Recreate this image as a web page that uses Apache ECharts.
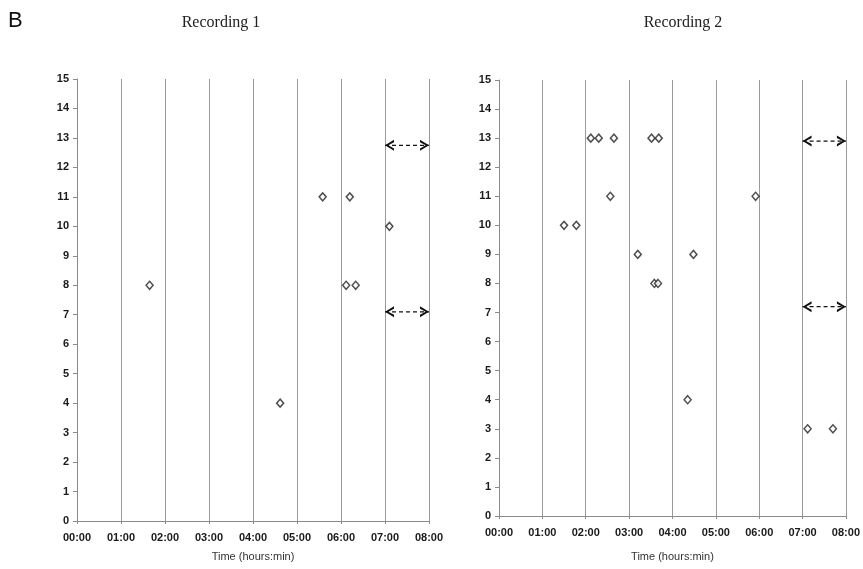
<!DOCTYPE html>
<html>
<head>
<meta charset="utf-8">
<script src="https://cdn.jsdelivr.net/npm/echarts@6/dist/echarts.min.js"></script>
<style>
html,body{margin:0;padding:0;background:#fff;}
#chart{width:863px;height:569px;}
</style>
</head>
<body>
<div id="chart"></div>
<script>
// ---- data ----
const panelTitles = ['Recording 1', 'Recording 2'];
const xTickLabels = ['00:00','01:00','02:00','03:00','04:00','05:00','06:00','07:00','08:00'];
const yTicks = [0,1,2,3,4,5,6,7,8,9,10,11,12,13,14,15];

// Recording 1 events: time (hh:mm) and level
const rec1Times  = ['01:39','04:37','05:35','06:12','06:07','06:20','07:06'];
const rec1Levels = [8, 4, 11, 11, 8, 8, 10];

// Recording 2 events
const rec2Times  = ['02:07','02:18','02:39','03:31','03:41','02:34','05:55','01:30','01:47','03:12','04:29','03:35','03:40','04:21','07:07','07:42'];
const rec2Levels = [13, 13, 13, 13, 13, 11, 11, 10, 10, 9, 9, 8, 8, 4, 3, 3];

// double-headed dashed arrows (07:00 -> 08:00)
const arrowSpan = ['07:00','08:00'];
const rec1ArrowLevels = [12.75, 7.1];
const rec2ArrowLevels = [12.9, 7.2];

// ---- helpers ----
function toHours(s){ const p = s.split(':'); return (+p[0]) + (+p[1])/60; }

const LEFT_HEAD  = 'path://M10,0 L0,5 L10,10 L10,7.8 L3.8,5 L10,2.2 Z';
const RIGHT_HEAD = 'path://M0,0 L10,5 L0,10 L0,7.8 L6.2,5 L0,2.2 Z';

const font = "'Liberation Sans', Arial, sans-serif";
const grids = [
  {left: 77, top: 79, width: 352, height: 442},
  {left: 499, top: 80, width: 350, height: 436}
];
const nameGaps = [30, 35];

const xAxes = grids.map((g,i)=>({
  type:'value', gridIndex:i, min:0, max:xTickLabels.length-1, interval:1,
  axisLine:{show:true, lineStyle:{color:'#8a8a8a', width:1}},
  axisTick:{show:true, length:3, lineStyle:{color:'#8a8a8a'}},
  splitLine:{show:true, lineStyle:{color:'#9a9a9a', width:1}},
  axisLabel:{margin:11, fontSize:11, fontWeight:'bold', color:'#1a1a1a', fontFamily:font,
    formatter:(v)=>xTickLabels[Math.round(v)]},
  name:'Time (hours:min)', nameLocation:'middle', nameGap:nameGaps[i],
  nameTextStyle:{fontSize:11, color:'#333', fontFamily:font}
}));
const yAxes = grids.map((g,i)=>({
  type:'value', gridIndex:i, min:yTicks[0], max:yTicks[yTicks.length-1], interval:1,
  axisLine:{show:true, lineStyle:{color:'#8a8a8a', width:1}},
  axisTick:{show:true, length:4, lineStyle:{color:'#8a8a8a'}},
  splitLine:{show:false},
  axisLabel:{margin:8, fontSize:11, fontWeight:'bold', color:'#1a1a1a', fontFamily:font}
}));

function scatterSeries(times, levels, idx){
  return {
    type:'scatter', xAxisIndex:idx, yAxisIndex:idx,
    symbol:'diamond', symbolSize:[7,8],
    itemStyle:{color:'#fff', borderColor:'#222', borderWidth:1.5},
    data: times.map((t,k)=>[toHours(t), levels[k]]),
    z:5
  };
}
function arrowSeries(level, idx){
  const a = toHours(arrowSpan[0]), b = toHours(arrowSpan[1]);
  return {
    type:'line', xAxisIndex:idx, yAxisIndex:idx,
    showSymbol:true, showAllSymbol:true, silent:true,
    lineStyle:{color:'#111', width:1.3, type:[4,3]},
    itemStyle:{color:'#111'},
    data:[
      {value:[a, level], symbol:LEFT_HEAD, symbolSize:[9,11], symbolOffset:[4.5,0]},
      {value:[b, level], symbol:RIGHT_HEAD, symbolSize:[9,11], symbolOffset:[-4.5,0]}
    ],
    z:6
  };
}

const series = [
  scatterSeries(rec1Times, rec1Levels, 0),
  scatterSeries(rec2Times, rec2Levels, 1)
];
rec1ArrowLevels.forEach(l=>series.push(arrowSeries(l,0)));
rec2ArrowLevels.forEach(l=>series.push(arrowSeries(l,1)));

const chart = echarts.init(document.getElementById('chart'), null, {renderer:'canvas'});
chart.setOption({
  animation:false,
  backgroundColor:'#fff',
  grid: grids,
  xAxis: xAxes,
  yAxis: yAxes,
  series: series,
  graphic:[
    {type:'text', left:8, top:10, style:{text:'B', fontSize:22, fontFamily:font, fill:'#111'}},
    {type:'text', x:221, y:23, style:{text:panelTitles[0], fontSize:16, fontFamily:"'Liberation Serif', 'Times New Roman', serif", fill:'#222', textAlign:'center', textVerticalAlign:'middle'}},
    {type:'text', x:683, y:23, style:{text:panelTitles[1], fontSize:16, fontFamily:"'Liberation Serif', 'Times New Roman', serif", fill:'#222', textAlign:'center', textVerticalAlign:'middle'}}
  ]
});
</script>
</body>
</html>
